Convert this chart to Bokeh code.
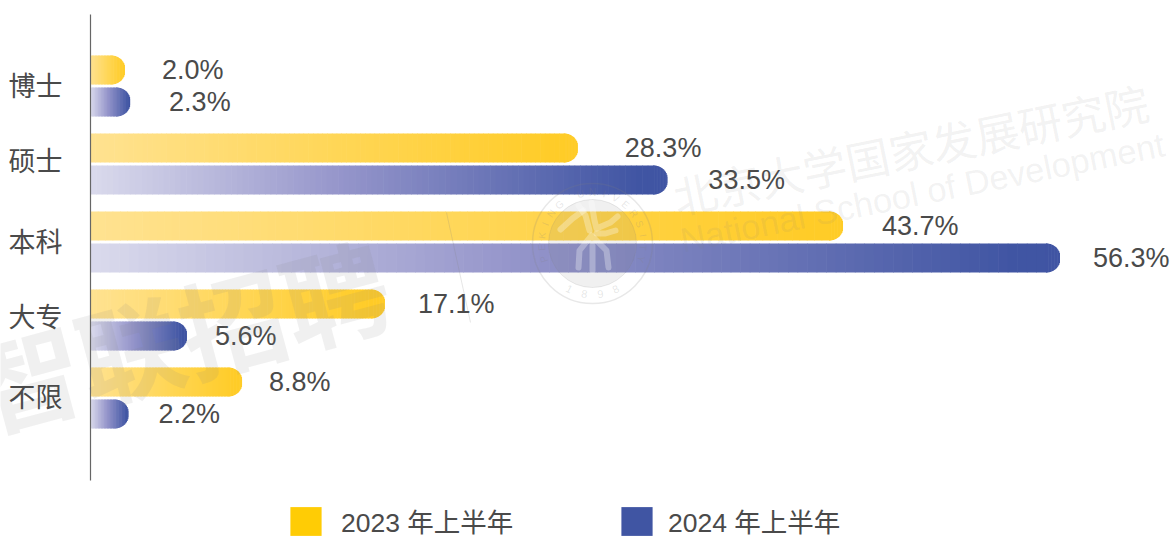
import math
from bokeh.plotting import figure
from bokeh.embed import file_html
from bokeh.resources import INLINE
from bokeh.core.properties import value
from bokeh.models import Range1d, FixedTicker, Legend, LegendItem, ColumnDataSource

categories = ["博士", "硕士", "本科", "大专", "不限"]
series_2023 = [2.0, 28.3, 43.7, 17.1, 8.8]
series_2024 = [2.3, 33.5, 56.3, 5.6, 2.2]
legend_labels = ["2023 年上半年", "2024 年上半年"]

W, H = 1172, 536
X0, PXU = 90.0, 17.22     # pixel of 0 %, pixels per %
Y0, PITCH = 85.5, 78.0    # pixel of the first band, pixels per band
BAR_H, OFF = 29, 16
FONT = "'Liberation Sans', 'Noto Sans CJK SC'"
TXT = "#4a4a4a"

x_range = Range1d(-X0 / PXU, (W - X0) / PXU)
y_range = Range1d((H - Y0) / PITCH, -Y0 / PITCH)


def dx(px):
    return (px - X0) / PXU


def dy(px):
    return (px - Y0) / PITCH


p = figure(width=W, height=H, x_range=x_range, y_range=y_range, output_backend="svg",
           toolbar_location=None, min_border=0, margin=(0, 0, 0, 0),
           outline_line_color=None, background_fill_color="white", x_axis_location=None)
p.grid.visible = False

ax = p.yaxis[0]
ax.fixed_location = 0
label_nudge = [0.01, -0.03, 0.01, -0.02, -0.005]
ticks = [i + n for i, n in enumerate(label_nudge)]
ax.ticker = FixedTicker(ticks=ticks)
ax.major_label_overrides = {t: c for t, c in zip(ticks, categories)}
ax.major_tick_line_color = None
ax.minor_tick_line_color = None
ax.major_label_standoff = 22
ax.major_label_text_font = FONT
ax.major_label_text_font_size = "27px"
ax.major_label_text_color = TXT
ax.axis_line_color = "#666666"
ax.axis_line_width = 1.2
ax.bounds = (dy(14), dy(480))


def hexc(c):
    return "#%02x%02x%02x" % tuple(int(round(v)) for v in c)


def ramp(stops, t):
    t = min(max(t, 0), 1)
    for (t0, c0), (t1, c1) in zip(stops, stops[1:]):
        if t <= t1:
            u = (t - t0) / (t1 - t0)
            return hexc([c0[k] + (c1[k] - c0[k]) * u for k in range(3)])
    return hexc(stops[-1][1])


def bar(val, yc, stops):
    """One bar as a left-to-right gradient with a rounded right end, via data scales."""
    length = val * PXU
    r = BAR_H / 2 - 0.5
    hh = BAR_H / 2
    xs = []
    x = 0.0
    body = max(length - r, 0)
    step = max(body / 100, 1.5)
    while x < body:
        xs.append(x)
        x += step
    x = body
    while x < length:
        xs.append(x)
        x += 0.75
    L, R, T, B, C = [], [], [], [], []
    for i, a in enumerate(xs):
        nxt = xs[i + 1] if i + 1 < len(xs) else length
        b = min(nxt + 0.6, length)
        t = (a + (nxt - a) / 2) / length
        d = max(a + (nxt - a) / 2 - body, 0)
        cap = hh - r + (max(r * r - d * d, 0)) ** 0.5 if a >= body else hh
        L.append(a / PXU)
        R.append(b / PXU)
        T.append(yc - cap / PITCH)
        B.append(yc + cap / PITCH)
        C.append(ramp(stops, t * 1.05))
    p.quad(left=L, right=R, top=T, bottom=B, fill_color=C, line_color=None)


Y_STOPS = [(0, (255, 226, 145)), (0.5, (255, 215, 90)), (1, (255, 204, 40))]
B_STOPS = [(0, (218, 218, 236)), (0.45, (150, 150, 203)), (1, (64, 85, 163))]
off = OFF / PITCH
for i in range(len(categories)):
    bar(series_2023[i], i - off, Y_STOPS)
    bar(series_2024[i], i + off, B_STOPS)

# value labels
lab_dx_2023 = [37, 47, 39, 33, 27]
lab_dx_2024 = [39, 41, 33, 28, 30]
for vals, dxs, d, in ((series_2023, lab_dx_2023, -off), (series_2024, lab_dx_2024, off)):
    src = ColumnDataSource(dict(
        x=vals, y=[i + d for i in range(5)],
        t=["%.1f%%" % v for v in vals], dx=dxs))
    p.text("x", "y", text="t", source=src, x_offset="dx", text_font=value(FONT),
           text_font_size="27px", text_color=TXT, text_align="left", text_baseline="middle")

# watermarks (gray, on top of the bars)
wm = "#808080"
p.text([dx(180)], [dy(332)], text=["智联招聘"], angle=15, angle_units="deg",
       text_font=value("Noto Sans CJK SC"), text_font_style="bold", text_font_size="106px",
       text_color=wm, text_alpha=0.12, text_align="center", text_baseline="middle")
p.line([dx(446), dx(470)], [dy(212), dy(322)], line_color=wm, line_alpha=0.2, line_width=1)
p.text([dx(910)], [dy(148)], text=["北京大学国家发展研究院"], angle=11.5, angle_units="deg",
       text_font=value("Noto Sans CJK SC"), text_font_size="44px",
       text_color=wm, text_alpha=0.11, text_align="center", text_baseline="middle")
p.text([dx(922)], [dy(192)], text=["National School of Development"], angle=11.3, angle_units="deg",
       text_font=value(FONT), text_font_size="34.5px",
       text_color=wm, text_alpha=0.11, text_align="center", text_baseline="middle")

# seal
CX, CY = 592, 243
p.scatter([dx(CX)], [dy(CY)], size=88, marker="circle", fill_color=wm, fill_alpha=0.12,
          line_color=wm, line_alpha=0.15, line_width=1)
p.scatter([dx(CX)], [dy(CY)], size=120, marker="circle", fill_color=None,
          line_color=wm, line_alpha=0.18, line_width=1.5)
strokes = [
    [(560, 229), (572, 218), (583, 210)],
    [(578, 205), (585, 215), (589, 230)],
    [(591, 202), (594, 220), (596, 228), (610, 222), (617, 216)],
    [(615, 230), (605, 233), (596, 233)],
    [(578, 267), (579, 250), (591, 235), (606, 250), (608, 267)],
    [(592, 245), (592, 270)],
]
p.multi_line([[dx(a) for a, _ in s] for s in strokes], [[dy(b) for _, b in s] for s in strokes],
             line_color="white", line_alpha=0.3, line_width=6, line_cap="round", line_join="round")
seal_text = "PEKING UNIVERSITY"
for k, ch in enumerate(seal_text):
    a = math.radians(-108 + 216 * k / (len(seal_text) - 1))
    px, py = CX + 51 * math.sin(a), CY - 51 * math.cos(a)
    p.text([dx(px)], [dy(py)], text=[ch], angle=-a, text_font=value(FONT), text_font_size="10px",
           text_color=wm, text_alpha=0.2, text_align="center", text_baseline="middle")
for k, ch in enumerate("1898"):
    a = math.radians(180 + 27 - 18 * k)
    px, py = CX + 51 * math.sin(a), CY - 51 * math.cos(a)
    p.text([dx(px)], [dy(py)], text=[ch], angle=-(a - math.pi), text_font=value(FONT), text_font_size="11px",
           text_color=wm, text_alpha=0.2, text_align="center", text_baseline="middle")

# legends (their swatches come from off-range quads)
r1 = p.quad(left=[-100], right=[-99], top=[0], bottom=[1], fill_color="#ffcc05", line_color=None)
r2 = p.quad(left=[-100], right=[-99], top=[0], bottom=[1], fill_color="#4055a3", line_color=None)
for label, rend, loc, standoff in ((legend_labels[0], r1, (286, -4), 16), (legend_labels[1], r2, (617, -4), 12)):
    legend = Legend(items=[LegendItem(label=label, renderers=[rend])],
                    location=loc, orientation="horizontal", glyph_width=39, glyph_height=36,
                    label_standoff=standoff, padding=0, margin=0,
                    background_fill_alpha=0, border_line_color=None,
                    label_text_font=FONT, label_text_font_size="26.5px", label_text_color=TXT)
    p.add_layout(legend, "center")

open("out.html", "w").write(file_html(p, INLINE))
